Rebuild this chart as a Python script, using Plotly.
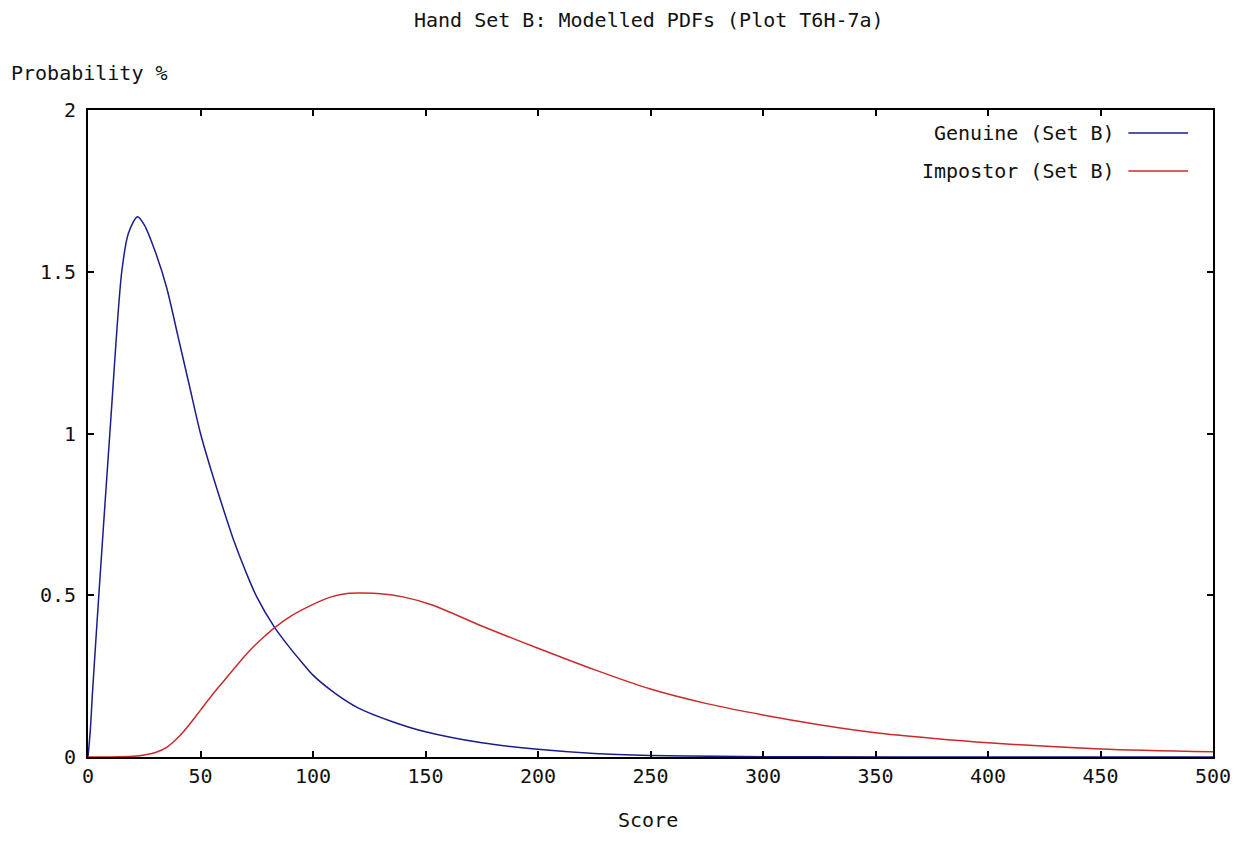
import plotly.graph_objects as go

# Scores and modelled PDF values
genuine_x = [0, 1, 2, 5, 10, 15, 18, 22, 25, 30, 35, 40, 45, 50, 55, 60, 65, 70, 75, 83, 90, 95, 100, 110, 120, 135, 150, 175, 200, 225, 250, 280, 320, 400, 500]
genuine_y = [0, 0.08, 0.2, 0.52, 1.03, 1.5, 1.62, 1.67, 1.645, 1.56, 1.45, 1.30, 1.15, 1.0, 0.88, 0.77, 0.665, 0.575, 0.495, 0.40, 0.335, 0.293, 0.253, 0.196, 0.152, 0.11, 0.078, 0.044, 0.024, 0.011, 0.005, 0.002, 0.0005, 0, 0]

impostor_x = [0, 10, 20, 25, 30, 35, 40, 45, 50, 55, 60, 66, 72, 78, 83, 90, 98, 108, 116, 122, 130, 140, 153, 175, 200, 225, 250, 275, 300, 325, 350, 375, 400, 450, 500]
impostor_y = [0, 0, 0.002, 0.006, 0.014, 0.03, 0.06, 0.10, 0.145, 0.19, 0.232, 0.282, 0.33, 0.37, 0.40, 0.435, 0.465, 0.495, 0.506, 0.507, 0.505, 0.495, 0.47, 0.405, 0.336, 0.27, 0.21, 0.165, 0.13, 0.1, 0.075, 0.058, 0.044, 0.025, 0.016]

x_ticks = [0, 50, 100, 150, 200, 250, 300, 350, 400, 450, 500]
y_ticks = [0, 0.5, 1, 1.5, 2]
y_ticklabels = ["0", "0.5", "1", "1.5", "2"]

title_text = "Hand Set B: Modelled PDFs (Plot T6H-7a)"
series_names = ["Genuine (Set B)", "Impostor (Set B)"]
series_colors = ["#1c1c8a", "#cc2a2a"]

FONT = "DejaVu Sans Mono"
FS = 20
fig = go.Figure()
fig.add_trace(go.Scatter(x=genuine_x, y=genuine_y, mode="lines", name=series_names[0],
                         line=dict(color=series_colors[0], width=1.5, shape="spline", smoothing=0.8),
                         showlegend=False))
fig.add_trace(go.Scatter(x=impostor_x, y=impostor_y, mode="lines", name=series_names[1],
                         line=dict(color=series_colors[1], width=1.5, shape="spline", smoothing=0.8),
                         showlegend=False))

axis_common = dict(showline=True, linecolor="black", linewidth=2, mirror="ticks",
                   ticks="inside", ticklen=6, tickwidth=2, tickcolor="black",
                   showgrid=False, zeroline=False,
                   tickfont=dict(family=FONT, size=FS, color="#111"))
fig.update_xaxes(range=[0, 500], tickvals=x_ticks, **axis_common)
fig.update_yaxes(range=[0, 2], tickvals=y_ticks, ticktext=y_ticklabels, ticklabelstandoff=6, **axis_common)

W, H = 1243, 857
L, R, T, B = 88, 25, 110, 100
pw, ph = W - L - R, H - T - B

def px2paper(px, py):
    return (px - L) / pw, (H - B - py) / ph

txtfont = dict(family=FONT, size=FS, color="#111")
layout_ann = []
xx, yy = px2paper(651, 20)
layout_ann.append(dict(text=title_text, x=xx, y=yy, xref="paper", yref="paper", showarrow=False,
                       xanchor="center", yanchor="middle", font=txtfont))
xx, yy = px2paper(9, 73)
layout_ann.append(dict(text="Probability %", x=xx, y=yy, xref="paper", yref="paper", showarrow=False,
                       xanchor="left", yanchor="middle", font=txtfont))
xx, yy = px2paper(650, 820)
layout_ann.append(dict(text="Score", x=xx, y=yy, xref="paper", yref="paper", showarrow=False,
                       xanchor="center", yanchor="middle", font=txtfont))

shapes = []
for i, (nm, col) in enumerate(zip(series_names, series_colors)):
    ly = 133 + 38 * i
    xx, yy = px2paper(1122, ly)
    layout_ann.append(dict(text=nm, x=xx, y=yy, xref="paper", yref="paper", showarrow=False,
                           xanchor="right", yanchor="middle", font=txtfont))
    x0, _ = px2paper(1133, ly)
    x1, _ = px2paper(1193, ly)
    shapes.append(dict(type="line", xref="paper", yref="paper", x0=x0, x1=x1, y0=yy, y1=yy,
                       line=dict(color=col, width=1.5)))

fig.update_layout(width=W, height=H, margin=dict(l=L, r=R, t=T, b=B),
                  paper_bgcolor="white", plot_bgcolor="white",
                  annotations=layout_ann, shapes=shapes, showlegend=False)
fig.write_html("out.html")
